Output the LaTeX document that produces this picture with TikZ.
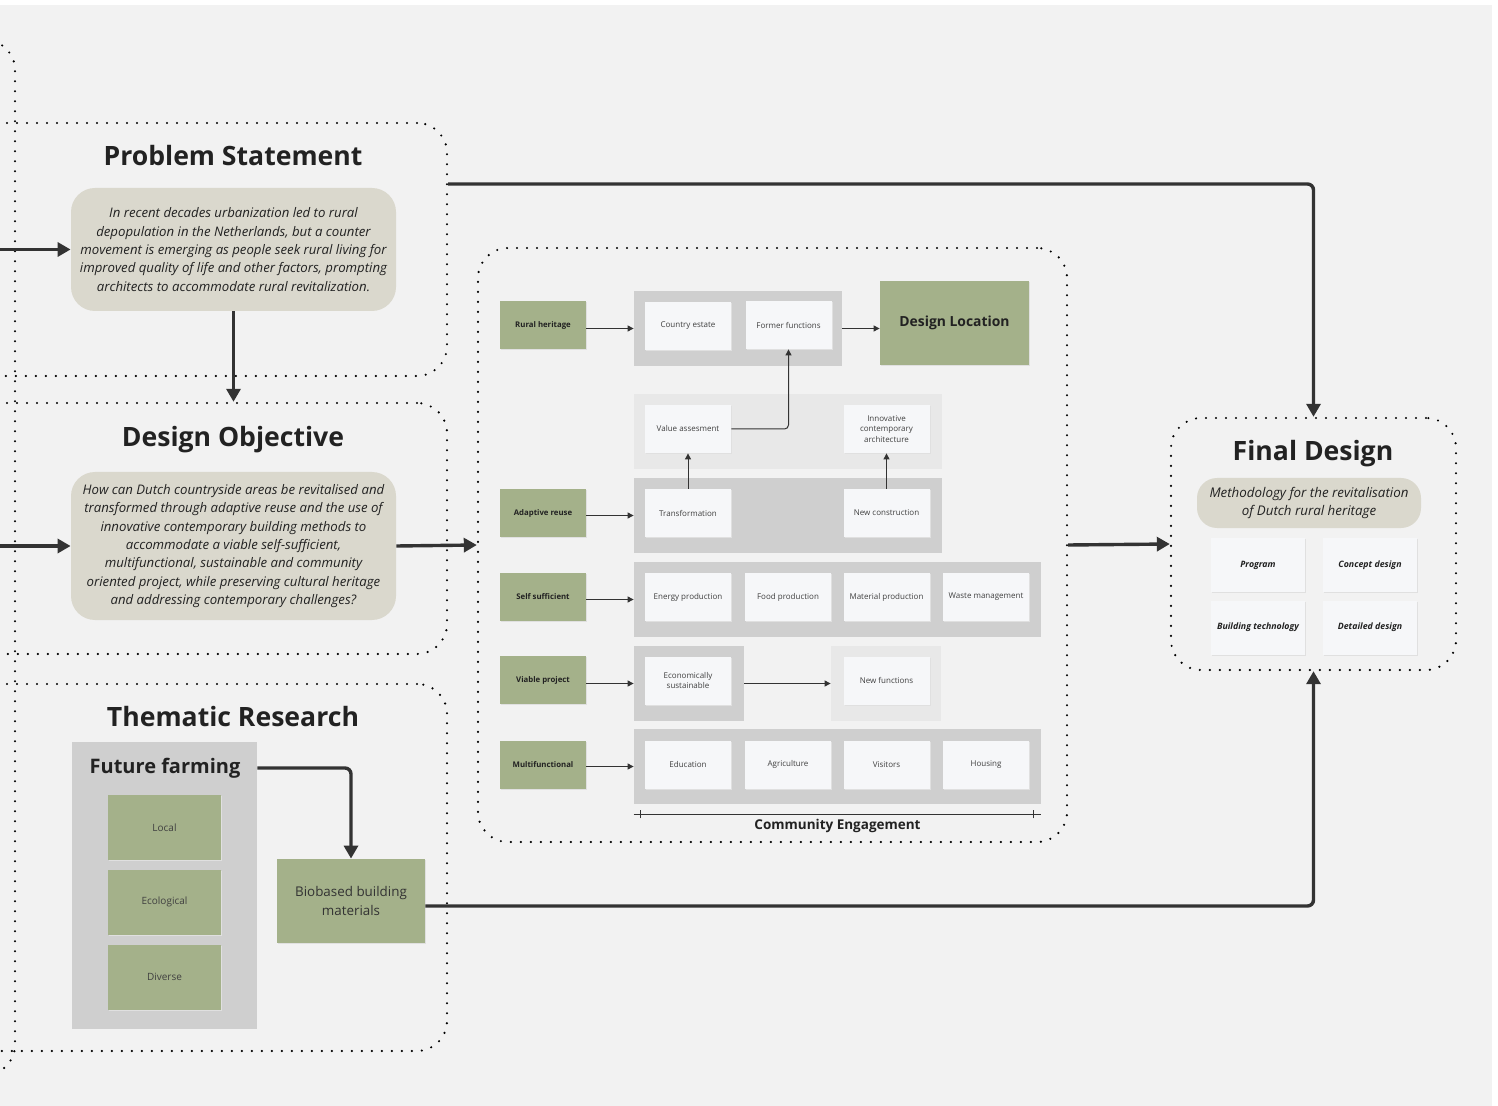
\documentclass[tikz,border=0pt]{standalone}
\usepackage{fontspec}
\setmainfont{Open Sans}
\usetikzlibrary{arrows.meta,shadows}
\definecolor{canvas}{HTML}{F2F2F2}
\definecolor{sand}{HTML}{DAD8CD}
\definecolor{sage}{HTML}{A4B18A}
\definecolor{tray}{HTML}{CFCFCF}
\definecolor{haze}{HTML}{E8E8E8}
\definecolor{paper}{HTML}{F6F7F9}
\definecolor{ink}{HTML}{222222}
\definecolor{wire}{HTML}{333333}

\begin{document}
\begin{tikzpicture}[x=0.5pt, y=-0.5pt, ink,
  >={Triangle[length=6.5pt,width=7pt]},
  flow/.style={->, wire, line width=1.7pt, rounded corners=3pt},
  link/.style={-{Triangle[length=3pt,width=3pt]}, wire, line width=0.5pt, rounded corners=2pt},
  frame/.style={draw=black, line width=1.2pt, dash pattern=on 0pt off 5pt, line cap=round, rounded corners=15pt},
  heading/.style={font=\fontsize{13.3}{16}\selectfont\bfseries},
  note/.style={fill=sand, rounded corners=12pt, align=center, inner sep=0pt,
               font=\fontsize{6.6}{9.2}\selectfont\itshape},
  lift/.style={general shadow={fill=black!12, shadow xshift=0.5pt, shadow yshift=-0.7pt}},
  tag/.style={fill=sage, lift, minimum width=43pt, minimum height=24pt,
              font=\fontsize{3.9}{5}\selectfont\bfseries},
  cell/.style={fill=paper, lift, minimum width=43pt, minimum height=24pt, inner sep=1pt,
               align=center, text=black!75, font=\fontsize{4}{5.4}\selectfont},
  panel/.style={fill=tray, minimum height=37.5pt},
  leaf/.style={fill=sage, lift, minimum width=56.5pt, minimum height=32.5pt,
               text=black!75, font=\fontsize{5}{6}\selectfont},
  plan/.style={cell, minimum width=47pt, minimum height=27pt, text=ink,
               font=\fontsize{4.4}{5.4}\selectfont\bfseries\itshape}]

\useasboundingbox (0,0) rectangle (1498,1106);
\fill[white] (0,0) rectangle (1498,1106);
\fill[canvas] (0,5) rectangle (1492,1106);

% outer context frame
\node[frame, minimum width=132.5pt, minimum height=517.5pt] (context) at (-117.5,557.5) {};

% problem statement
\node[frame, minimum width=253.5pt, minimum height=126.5pt] (ps) at (193.5,249.5) {};
\node[heading] (pstitle) at (233,156) {Problem Statement};
\node[note, minimum width=162.5pt, minimum height=61.5pt] (ptext) at (233.5,249.5)
  {In recent decades urbanization led to rural\\
   depopulation in the Netherlands, but a counter\\
   movement is emerging as people seek rural living for\\
   improved quality of life and other factors, prompting\\
   architects to accommodate rural revitalization.};

% design objective
\node[frame, minimum width=253.5pt, minimum height=125.5pt] (do) at (193.5,528.5) {};
\node[heading] (dotitle) at (233,440) {Design Objective};
\node[note, minimum width=162.5pt, minimum height=74pt] (dtext) at (233.5,546)
  {How can Dutch countryside areas be revitalised and\\
   transformed through adaptive reuse and the use of\\
   innovative contemporary building methods to\\
   accommodate a viable self-sufficient,\\
   multifunctional, sustainable and community\\
   oriented project, while preserving cultural heritage\\
   and addressing contemporary challenges?};

% thematic research
\node[frame, minimum width=253.5pt, minimum height=183.5pt] (tr) at (193.5,867.5) {};
\node[heading] (trtitle) at (233,717) {Thematic Research};
\node[fill=tray, minimum width=92.5pt, minimum height=143.5pt] (farm) at (164.5,885.5) {};
\node[font=\fontsize{10}{12}\selectfont\bfseries] (fftitle) at (165,768) {Future farming};
\foreach \n/\y/\t in {local/827.5/Local, eco/902/Ecological, diverse/977/Diverse}
  \node[leaf] (\n) at (164.5,\y) {\t};
\node[fill=sage, lift, minimum width=74pt, minimum height=42pt, align=center,
      text=black!80, font=\fontsize{6.7}{9.5}\selectfont] (bio) at (351,901)
  {Biobased building\\materials};

% research framework
\node[frame, minimum width=294.5pt, minimum height=297pt] (cb) at (772.5,545) {};
\node[panel, minimum width=104pt] (p1) at (738,328.5) {};
\node[panel, fill=haze, minimum width=154pt] (p2) at (788,431.5) {};
\node[panel, minimum width=154pt] (p3) at (788,515.5) {};
\node[panel, minimum width=203.5pt] (p4) at (837.5,599.5) {};
\node[panel, minimum width=55pt] (p5) at (689,683.5) {};
\node[panel, fill=haze, minimum width=55pt] (p6) at (886,683.5) {};
\node[panel, minimum width=203.5pt] (p7) at (837.5,766.5) {};

\foreach \n/\y/\t in {rural/325/Rural heritage, adapt/513/Adaptive reuse,
    self/597/Self sufficient, viable/680/Viable project, multi/765/Multifunctional}
  \node[tag] (\n) at (543,\y) {\t};

\node[cell] (estate) at (688,326) {Country estate};
\node[cell] (former) at (788.5,325) {Former functions};
\node[fill=sage, lift, minimum width=74.5pt, minimum height=42pt,
      font=\fontsize{6.95}{8}\selectfont\bfseries] (loc) at (954.5,323) {Design Location};
\node[cell] (value) at (688,429) {Value assesment};
\node[cell] (innov) at (886.5,429) {Innovative\\contemporary\\architecture};
\node[cell] (transform) at (688,513) {Transformation};
\node[cell] (newcon) at (886.5,513) {New construction};
\foreach \n/\x/\t in {energy/688/Energy production, food/788/Food production,
    material/886.5/Material production, waste/986/Waste management}
  \node[cell] (\n) at (\x,597) {\t};
\node[cell] (econ) at (688,680.5) {Economically\\sustainable};
\node[cell] (newfun) at (886.5,680.5) {New functions};
\foreach \n/\x/\t in {edu/688/Education, agri/788/Agriculture,
    visit/886.5/Visitors, house/986/Housing}
  \node[cell] (\n) at (\x,764.5) {\t};

\foreach \a/\b in {rural/p1, adapt/p3, self/p4, viable/p5, multi/p7}
  \draw[link] (\a.east |- \b.west) -- (\b.west);
\draw[link] (p1.east) -- (p1.east -| loc.west);
\draw[link] (value.east) -| (former.south);
\draw[link] (transform) -- (value);
\draw[link] (newcon) -- (innov);
\draw[link] (p5) -- (p6);

% community engagement
\coordinate (cel) at ([yshift=-5pt]p7.south west);
\coordinate (cer) at ([yshift=-5pt]p7.south east);
\draw[wire, line width=0.5pt] (cel) -- (cer);
\foreach \c/\s in {cel/3.5pt, cer/-4pt}
  \draw[wire, line width=0.5pt] ([xshift=\s,yshift=-2pt]\c) -- ([xshift=\s,yshift=2pt]\c);
\node[anchor=north, inner sep=2pt, font=\fontsize{6.75}{8}\selectfont\bfseries] (ce)
  at (p7.south |- cel) {Community Engagement};

% final design
\node[frame, minimum width=142.5pt, minimum height=126pt] (fd) at (1313.5,544) {};
\node[heading] (fdtitle) at (1313,454) {Final Design};
\node[note, minimum width=112pt, minimum height=25pt, rounded corners=10pt,
      font=\fontsize{6.67}{9}\selectfont\itshape] (meth) at (1309,503)
  {Methodology for the revitalisation\\of Dutch rural heritage};
\node[plan] (program) at (1258,565) {Program};
\node[plan] (concept) at (1370,565) {Concept design};
\node[plan] (buildtech) at (1258,627.5) {Building technology};
\node[plan] (detail) at (1370,627.5) {Detailed design};

% main flows
\coordinate (inps) at (-20,249.5);
\coordinate (indo) at (-20,546);
\draw[flow] (inps) -- (ptext.west);
\draw[flow] (indo) -- (dtext.west);
\draw[flow] (ptext.south) -- (ptext.south |- do.north);
\draw[flow] (dtext.east) -- (cb.west);
\draw[flow] (cb.east) -- (fd.west);
\draw[flow] ([yshift=32.75pt]ps.east) -| (fd.north);
\draw[flow] (fftitle -| farm.east) -| (bio.north);
\draw[flow] ([yshift=-2.5pt]bio.east) -| (fd.south);

\end{tikzpicture}
\end{document}
